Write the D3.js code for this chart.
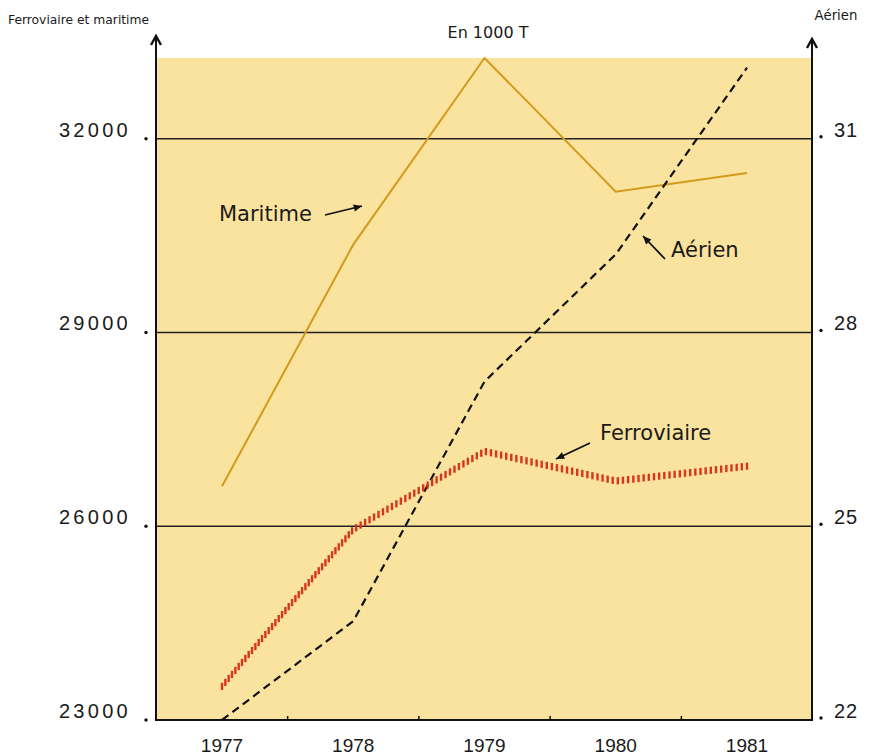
<!DOCTYPE html>
<html><head><meta charset="utf-8">
<script src="https://cdn.jsdelivr.net/npm/d3@7"></script>
<style>body{margin:0;background:#fff}svg{display:block}text{font-family:"Liberation Sans",Arial,sans-serif;fill:#1a1a1a}</style>
</head><body>
<script>
const years = [1977, 1978, 1979, 1980, 1981];
const maritime = [26620, 30360, 33250, 31180, 31470];
const ferroviaire = [23520, 25950, 27160, 26700, 26930];
const aerien = [22.0, 23.53, 27.24, 29.21, 32.1];
const leftTicks = [23000, 26000, 29000, 32000];
const rightTicks = [22, 25, 28, 31];
const midTicks = [1977.5, 1978.5, 1979.5, 1980.5];

const W = 884, H = 756;
const svg = d3.select("body").append("svg").attr("width", W).attr("height", H);
const L = 156, R = 812, T = 58, B = 720;
const x = d3.scaleLinear().domain([1977, 1981]).range([222, 747]);
const yL = d3.scaleLinear().domain([23000, 33250]).range([B, T]);
const yR = d3.scaleLinear().domain([22, 32.25]).range([B, T]);

svg.append("rect").attr("x", L).attr("y", T).attr("width", R - L).attr("height", B - T).attr("fill", "#fae39e");

// gridlines
svg.append("g").selectAll("line").data(leftTicks.slice(1)).join("line")
  .attr("x1", L).attr("x2", R).attr("y1", d => yL(d)).attr("y2", d => yL(d))
  .attr("stroke", "#222").attr("stroke-width", 1.3);

// axes
const ax = svg.append("g").attr("stroke", "#111").attr("stroke-width", 2).attr("fill", "none");
ax.append("line").attr("x1", L).attr("x2", L).attr("y1", B + 1).attr("y2", 37);
ax.append("line").attr("x1", R).attr("x2", R).attr("y1", B + 1).attr("y2", 40);
ax.append("line").attr("x1", L).attr("x2", R).attr("y1", B).attr("y2", B);
ax.append("path").attr("d", `M${L - 5},${45} L${L},${36} L${L + 5},${45}`).attr("stroke-width", 2.4);
ax.append("path").attr("d", `M${R - 5},${48} L${R},${39} L${R + 5},${48}`).attr("stroke-width", 2.4);
svg.append("g").selectAll("line").data(midTicks).join("line")
  .attr("x1", d => x(d)).attr("x2", d => x(d)).attr("y1", B).attr("y2", B - 4)
  .attr("stroke", "#111").attr("stroke-width", 1.5);

// left tick labels
const lt = svg.append("g");
lt.selectAll("text").data(leftTicks).join("text")
  .attr("x", 131).attr("y", d => yL(d) - 2).attr("text-anchor", "end")
  .style("font-size", "20px").style("letter-spacing", "3.3px")
  .text(d => d);
lt.selectAll("circle").data(leftTicks).join("circle")
  .attr("cx", 146).attr("cy", d => yL(d)).attr("r", 1.7).attr("fill", "#111");
// right tick labels
const rt = svg.append("g");
rt.selectAll("text").data(rightTicks).join("text")
  .attr("x", 834).attr("y", d => yR(d) - 2)
  .style("font-size", "20px").style("letter-spacing", "1px")
  .text(d => d);
rt.selectAll("circle").data(rightTicks).join("circle")
  .attr("cx", 821).attr("cy", d => yR(d) - 2).attr("r", 1.7).attr("fill", "#111");

// year labels
svg.append("g").selectAll("text").data(years).join("text")
  .attr("x", d => x(d)).attr("y", 752).attr("text-anchor", "middle")
  .style("font-size", "19px").text(d => d);

// titles
const dj = "'DejaVu Sans',sans-serif";
svg.append("text").attr("x", 8).attr("y", 24).style("font-family", dj).style("font-size", "12.3px").text("Ferroviaire et maritime");
svg.append("text").attr("x", 488).attr("y", 38).attr("text-anchor", "middle").style("font-family", dj).style("font-size", "16px").text("En 1000 T");
svg.append("text").attr("x", 836).attr("y", 20).attr("text-anchor", "middle").style("font-family", dj).style("font-size", "13.3px").text("Aérien");

// lines
const lineL = d3.line().x((d, i) => x(years[i])).y(d => yL(d));
const lineR = d3.line().x((d, i) => x(years[i])).y(d => yR(d));

svg.append("path").attr("d", lineL(maritime)).attr("fill", "none")
  .attr("stroke", "#d49a1c").attr("stroke-width", 2);

svg.append("path").attr("d", lineR(aerien)).attr("fill", "none")
  .attr("stroke", "#111").attr("stroke-width", 2.2).attr("stroke-dasharray", "8,5");

// ferroviaire: railway-like vertical ticks along the path
const fPath = svg.append("path").attr("d", lineL(ferroviaire))
  .attr("fill", "none").attr("stroke", "none");
const len = fPath.node().getTotalLength();
const pts = d3.range(0, len, 5.2).map(l => fPath.node().getPointAtLength(l));
svg.append("g").selectAll("line").data(pts).join("line")
  .attr("x1", p => p.x).attr("x2", p => p.x).attr("y1", p => p.y - 3.6).attr("y2", p => p.y + 3.6)
  .attr("stroke", "#d8361c").attr("stroke-width", 2.4);

// annotations
const ann = svg.append("g");
ann.append("text").attr("x", 219).attr("y", 221).style("font-family", dj).style("font-size", "21px").text("Maritime");
ann.append("text").attr("x", 671).attr("y", 257).style("font-family", dj).style("font-size", "21px").text("Aérien");
ann.append("text").attr("x", 600).attr("y", 440).style("font-family", dj).style("font-size", "21px").text("Ferroviaire");
const arrow = (x1, y1, x2, y2) => {
  ann.append("line").attr("x1", x1).attr("y1", y1).attr("x2", x2).attr("y2", y2).attr("stroke", "#111").attr("stroke-width", 1.8);
  const a = Math.atan2(y2 - y1, x2 - x1), s = 9, w = 0.42;
  ann.append("path").attr("d", `M${x2},${y2} L${x2 - s * Math.cos(a - w)},${y2 - s * Math.sin(a - w)} L${x2 - s * Math.cos(a + w)},${y2 - s * Math.sin(a + w)} Z`).attr("fill", "#111");
};
arrow(325, 215, 362, 206);
arrow(665, 259, 643, 236);
arrow(590, 443, 556, 459);
</script>
</body></html>
